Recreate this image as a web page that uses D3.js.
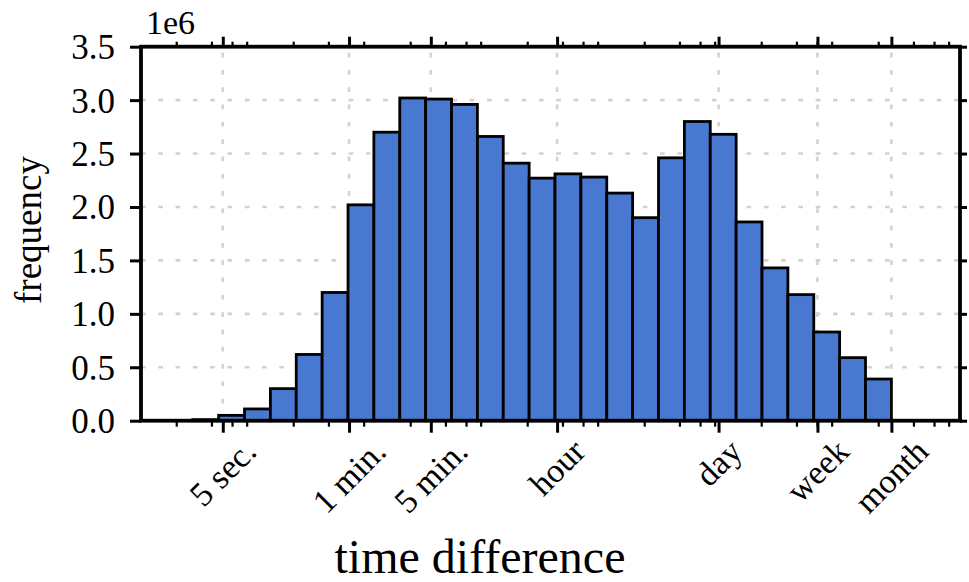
<!DOCTYPE html>
<html lang="en">
<head>
<meta charset="UTF-8">
<title>time difference histogram</title>
<script src="https://d3js.org/d3.v7.min.js"></script>
<style>
  body { margin: 0; background: #fff; }
  text { font-family: "Liberation Serif", "Times New Roman", serif; fill: #000; }
</style>
</head>
<body>
<div id="chart"></div>
<script>
// histogram bin edges, in seconds (log spaced, 1 sec .. 1 month)
const binEdges = [1, 1.664, 2.769, 4.609, 7.669, 12.76, 21.23, 35.34, 58.80, 97.82,
  162.8, 270.9, 450.8, 750.1, 1248, 2077, 3456, 5751, 9570, 15924,
  26498, 44093, 73370, 122086, 203148, 338040, 562494, 935988, 1557476, 2592000];

// frequency per bin, in units of 1e6
const frequency = [0, 0, 0.01, 0.05, 0.11, 0.30, 0.62, 1.20, 2.02, 2.70,
  3.02, 3.01, 2.96, 2.66, 2.41, 2.27, 2.31, 2.28, 2.13, 1.90,
  2.46, 2.80, 2.68, 1.86, 1.43, 1.18, 0.83, 0.59, 0.39];

// named x ticks (seconds) and their labels
const timeTicks = [5, 60, 300, 3600, 86400, 604800, 2592000];
const timeLabels = ["5 sec.", "1 min.", "5 min.", "hour", "day", "week", "month"];

const yTicks = [0, 0.5, 1.0, 1.5, 2.0, 2.5, 3.0, 3.5];

const W = 969, H = 582;
const margin = { top: 46.7, right: 9, bottom: 161.3, left: 141 };
const width = W - margin.left - margin.right,
  height = H - margin.top - margin.bottom;

const svg = d3.select("#chart")
  .append("svg")
  .attr("width", W)
  .attr("height", H);

const g = svg.append("g")
  .attr("transform", `translate(${margin.left},${margin.top})`);

const x = d3.scaleLog()
  .domain([1, 1e7])
  .range([0, width]);

const y = d3.scaleLinear()
  .domain([0, 3.5])
  .range([height, 0]);

// minor ticks at 2,4,6,8 x 10^k
const minorTicks = [];
for (let k = 0; k < 7; k++) {
  [2, 4, 6, 8].forEach(m => minorTicks.push(m * Math.pow(10, k)));
}

// grid
const grid = g.append("g")
  .attr("stroke", "#d2d2d2")
  .attr("stroke-width", 2.6)
  .attr("stroke-dasharray", "4.7,12.6");

grid.selectAll(".vg")
  .data(timeTicks)
  .join("line")
  .attr("x1", d => x(d))
  .attr("x2", d => x(d))
  .attr("y1", height)
  .attr("y2", 0);

grid.selectAll(".hg")
  .data(yTicks.slice(1, -1))
  .join("line")
  .attr("x1", 0)
  .attr("x2", width)
  .attr("y1", d => y(d))
  .attr("y2", d => y(d));

// bars
g.append("g")
  .selectAll("rect")
  .data(frequency)
  .join("rect")
  .attr("x", (d, i) => x(binEdges[i]))
  .attr("width", (d, i) => x(binEdges[i + 1]) - x(binEdges[i]))
  .attr("y", d => y(d))
  .attr("height", d => height - y(d))
  .attr("fill", "#4878cf")
  .attr("stroke", "#000")
  .attr("stroke-width", 2.8);

// axes
function styleAxis(sel, w) {
  sel.select(".domain").remove();
  sel.selectAll(".tick line").attr("stroke", "#000").attr("stroke-width", w);
}

g.append("g")
  .attr("transform", `translate(0,${height})`)
  .call(d3.axisBottom(x).tickValues(minorTicks).tickSize(6).tickFormat(""))
  .call(s => styleAxis(s, 2.2));
g.append("g")
  .call(d3.axisTop(x).tickValues(minorTicks).tickSize(5).tickFormat(""))
  .call(s => styleAxis(s, 2.2));

g.append("g")
  .attr("transform", `translate(0,${height})`)
  .call(d3.axisBottom(x).tickValues(timeTicks).tickSize(12).tickFormat(""))
  .call(s => styleAxis(s, 3));
g.append("g")
  .call(d3.axisTop(x).tickValues(timeTicks).tickSize(10).tickFormat(""))
  .call(s => styleAxis(s, 3));

const yAxis = g.append("g")
  .call(d3.axisLeft(y).tickValues(yTicks).tickSize(11).tickPadding(15).tickFormat(d3.format(".1f")))
  .call(s => styleAxis(s, 3));
yAxis.selectAll("text")
  .attr("font-size", 35)
  .attr("font-family", "Liberation Serif")
  .attr("dy", "0.34em");

g.append("g")
  .attr("transform", `translate(${width},0)`)
  .call(d3.axisRight(y).tickValues(yTicks).tickSize(7).tickFormat(""))
  .call(s => styleAxis(s, 3));

// frame
g.append("rect")
  .attr("width", width)
  .attr("height", height)
  .attr("fill", "none")
  .attr("stroke", "#000")
  .attr("stroke-width", 3.8);

// rotated x labels, bbox centred under each tick
const fs = 34;
const labels = g.append("g");
timeTicks.forEach((t, i) => {
  const txt = labels.append("text")
    .attr("font-size", fs)
    .attr("text-anchor", "middle")
    .attr("dominant-baseline", "central")
    .text(timeLabels[i]);
  const L = txt.node().getComputedTextLength();
  const half = (L + 0.72 * fs) / (2 * Math.SQRT2);
  const cx = x(t), cy = height + 16 + half;
  txt.attr("transform", `translate(${cx},${cy}) rotate(-45)`);
});

// offset text
g.append("text")
  .attr("x", 5)
  .attr("y", -13)
  .attr("font-size", 34)
  .text("1e6");

// axis titles
g.append("text")
  .attr("x", 480 - margin.left)
  .attr("y", height + 152)
  .attr("text-anchor", "middle")
  .attr("font-size", 48)
  .text("time difference");

g.append("text")
  .attr("transform", `translate(${-100},${230 - margin.top}) rotate(-90)`)
  .attr("text-anchor", "middle")
  .attr("font-size", 37)
  .text("frequency");
</script>
</body>
</html>
